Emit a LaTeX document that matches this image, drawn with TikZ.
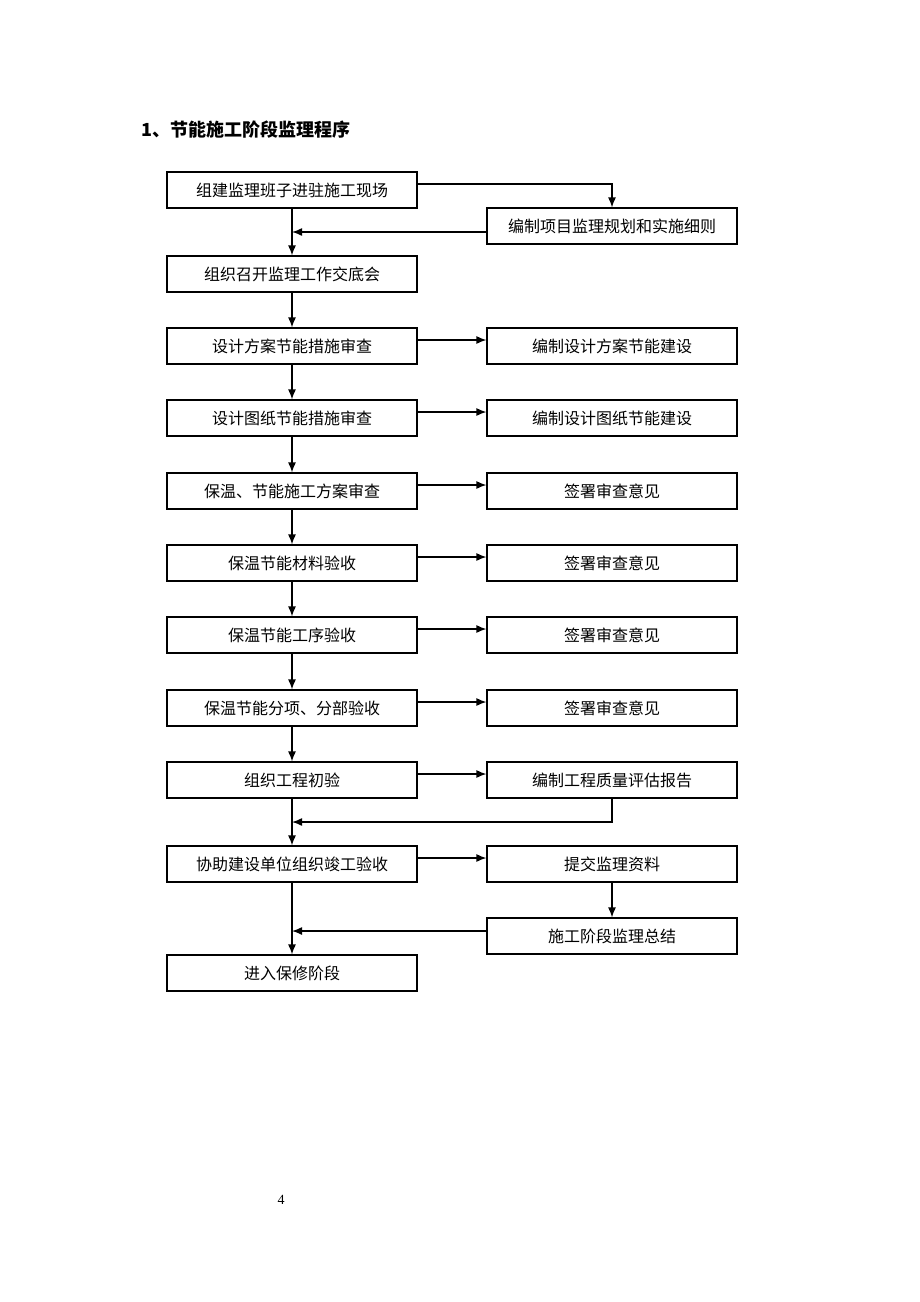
\documentclass[tikz,border=0pt]{standalone}
\usepackage{fontspec}
\setmainfont{Liberation Serif}
\newfontfamily\cjk{Noto Sans CJK SC}
\usetikzlibrary{arrows.meta}
\begin{document}
\begin{tikzpicture}[x=1pt,y=-1pt,
  flowbox/.style={draw,line width=1.1pt,minimum width=250pt,minimum height=36pt,inner sep=0pt,
    font=\cjk\fontsize{16}{18}\selectfont},
  arr/.style={line width=1.4pt,-{Latex[length=10pt,width=8pt]}},
  ln/.style={line width=1.4pt}]
\useasboundingbox[fill=white] (0,0) rectangle (920,1302);
\node[anchor=west,font=\cjk\bfseries\fontsize{18}{20}\selectfont] (title) at (138,130) {1、节能施工阶段监理程序};
\node[font=\fontsize{14}{16}\selectfont] (pg) at (281,1200) {4};

\node[flowbox] (A1) at (292,190) {组建监理班子进驻施工现场};
\node[flowbox] (B1) at (612,226) {编制项目监理规划和实施细则};
\node[flowbox] (A2) at (292,274) {组织召开监理工作交底会};
\node[flowbox] (A3) at (292,346) {设计方案节能措施审查};
\node[flowbox] (B3) at (612,346) {编制设计方案节能建设};
\node[flowbox] (A4) at (292,418) {设计图纸节能措施审查};
\node[flowbox] (B4) at (612,418) {编制设计图纸节能建设};
\node[flowbox] (A5) at (292,491) {保温、节能施工方案审查};
\node[flowbox] (B5) at (612,491) {签署审查意见};
\node[flowbox] (A6) at (292,563) {保温节能材料验收};
\node[flowbox] (B6) at (612,563) {签署审查意见};
\node[flowbox] (A7) at (292,635) {保温节能工序验收};
\node[flowbox] (B7) at (612,635) {签署审查意见};
\node[flowbox] (A8) at (292,708) {保温节能分项、分部验收};
\node[flowbox] (B8) at (612,708) {签署审查意见};
\node[flowbox] (A9) at (292,780) {组织工程初验};
\node[flowbox] (B9) at (612,780) {编制工程质量评估报告};
\node[flowbox] (A10) at (292,864) {协助建设单位组织竣工验收};
\node[flowbox] (B10) at (612,864) {提交监理资料};
\node[flowbox] (B11) at (612,936) {施工阶段监理总结};
\node[flowbox] (A11) at (292,973) {进入保修阶段};

% top branch
\draw[arr] ([yshift=6pt]A1.east) -| (B1.north);
\coordinate (b1w) at ([yshift=-6pt]B1.west);
\draw[arr] (b1w) -- (b1w -| A1.south);
\draw[arr] (A1.south) -- (A2.north);
\draw[arr] (A2.south) -- (A3.north);
\draw[arr] (A3.south) -- (A4.north);
\draw[arr] (A4.south) -- (A5.north);
\draw[arr] (A5.south) -- (A6.north);
\draw[arr] (A6.south) -- (A7.north);
\draw[arr] (A7.south) -- (A8.north);
\draw[arr] (A8.south) -- (A9.north);
\draw[arr] (A9.south) -- (A10.north);
\draw[arr] (A10.south) -- (A11.north);

\foreach \r in {3,4,5,6,7,8,9,10}{
  \draw[arr] ([yshift=6pt]A\r.east) -- ([yshift=6pt]B\r.west);
}
\coordinate (j9) at (292,822);
\draw[arr] (B9.south) |- (j9);
\draw[arr] (B10.south) -- (B11.north);
\coordinate (b11w) at ([yshift=5pt]B11.west);
\draw[arr] (b11w) -- (b11w -| A10.south);
\end{tikzpicture}
\end{document}
